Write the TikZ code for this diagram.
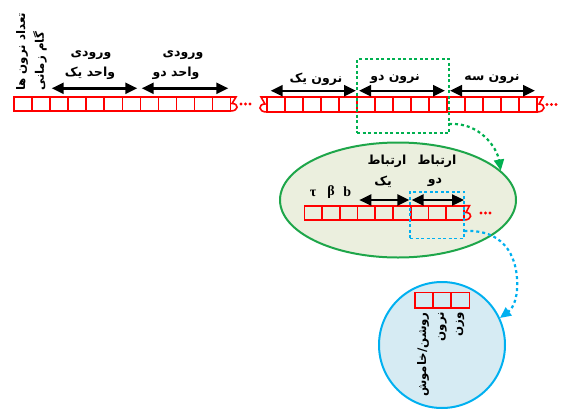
\documentclass[tikz,border=0pt]{standalone}
\usepackage{fontspec}
\usetikzlibrary{arrows.meta,shapes.geometric}
\TeXXeTstate=1
\newfontfamily\fa[Script=Arabic]{DejaVu Sans}
\newfontfamily\grk{Liberation Serif}
\definecolor{tred}{RGB}{255,0,0}
\definecolor{tgreen}{RGB}{0,176,80}
\definecolor{egreen}{RGB}{30,166,74}
\definecolor{efill}{RGB}{235,239,222}
\definecolor{tblue}{RGB}{0,176,240}
\definecolor{cfill}{RGB}{214,235,243}
\newcommand{\fat}[1]{{\fa\bfseries\beginR #1\endR}}
\tikzset{
  tape/.style={draw=tred, line width=1.6pt},
  tapedot/.style={fill=tred, draw=none},
  darr/.style={line width=2.4pt, {Triangle[length=12pt,width=11pt]}-{Triangle[length=12pt,width=11pt]}},
  lbl/.style={inner sep=0pt, font=\fontsize{12.5}{14}\selectfont},
  vlbl/.style={inner sep=0pt, font=\fontsize{11.8}{14}\selectfont},
  gkl/.style={inner sep=0pt, font=\fontsize{14}{16}\selectfont\grk\bfseries},
  gdash/.style={draw=tgreen, line width=1.6pt, dash pattern=on 3pt off 2.5pt},
  bdash/.style={draw=tblue, line width=1.6pt, dash pattern=on 3pt off 2.5pt},
  gcurve/.style={draw=tgreen, line width=2.2pt, dash pattern=on 3pt off 3pt, -{Triangle[length=11pt,width=10pt]}},
  bcurve/.style={draw=tblue, line width=2.2pt, dash pattern=on 3pt off 3pt, -{Triangle[length=11pt,width=10pt]}},
}
\begin{document}
\begin{tikzpicture}[x=1pt,y=-1pt]
\useasboundingbox (0,0) rectangle (563,410);

% ---------- tape 1 ----------
\foreach \i in {0,...,11} \draw[tape] ({14+\i*18.05},97) rectangle ++(18.05,14);
\draw[tape] (230.6,97) -- (236,97) -- (232,103.5) .. controls (239,103.5) and (239,111) .. (230.6,111);
\foreach \x in {241,245.5,250} \fill[tapedot] (\x,104) circle (1.6);

\node[vlbl, rotate=90, anchor=west] (nn) at (22,91) {\fat{تعداد نرون ها}};
\node[vlbl, rotate=90, anchor=west] (gz) at (40,91) {\fat{گام زمانی}};

\coordinate (a1s) at (51.7,88.3); \coordinate (a1e) at (137.3,88.3);
\coordinate (a2s) at (141.7,88.3); \coordinate (a2e) at (228.3,88.3);
\draw[darr] (a1s) -- (a1e);
\draw[darr] (a2s) -- (a2e);
\node[lbl] (v1a) at (91,55) {\fat{ورودی}};
\node[lbl] (v1b) at (90,73) {\fat{واحد یک}};
\node[lbl] (v2a) at (183,55) {\fat{ورودی}};
\node[lbl] (v2b) at (176,73) {\fat{واحد دو}};

% ---------- tape 2 ----------
\foreach \i in {0,...,14} \draw[tape] ({266.7+\i*18},97) rectangle ++(18,15);
\draw[tape] (266.7,97) -- (261,97) -- (265,104) .. controls (258,104) and (258,112) .. (266.7,112);
\draw[tape] (536.7,97) -- (543,97) -- (539,104) .. controls (546,104) and (546,112) .. (536.7,112);
\foreach \x in {547,551.5,556} \fill[tapedot] (\x,104.5) circle (1.6);

\coordinate (n1s) at (270.7,90.7); \coordinate (n1e) at (356,90.7);
\coordinate (n2s) at (359,90.7); \coordinate (n2e) at (445,90.7);
\coordinate (n3s) at (450,90.7); \coordinate (n3e) at (535,90.7);
\draw[darr] (n1s) -- (n1e);
\draw[darr] (n2s) -- (n2e);
\draw[darr] (n3s) -- (n3e);
\node[lbl] (t1) at (316,79) {\fat{نرون یک}};
\node[lbl] (t2) at (395,79) {\fat{نرون دو}};
\node[lbl] (t3) at (492,79) {\fat{نرون سه}};

\node[gdash, minimum width=92pt, minimum height=74pt, inner sep=0pt] (gbox) at (403,96) {};

% ---------- ellipse ----------
\node[ellipse, draw=egreen, fill=efill, line width=2pt, minimum width=236pt, minimum height=115pt, inner sep=0pt] (ell) at (398,200) {};
\foreach \i in {0,...,8} \draw[tape] ({304.3+\i*17.74},205.7) rectangle ++(17.74,14.3);
\draw[tape] (464,205.7) -- (469.5,205.7) -- (466,212.5) .. controls (472.5,212.5) and (472.5,220) .. (464,220);
\foreach \x in {481,485.5,490} \fill[tapedot] (\x,213) circle (1.6);

\node[gkl] (tau) at (313,193) {τ};
\node[gkl] (bet) at (331,192) {β};
\node[gkl] (bb) at (347.3,192) {b};

\coordinate (r1s) at (359.3,200); \coordinate (r1e) at (409.3,200);
\coordinate (r2s) at (411.7,200); \coordinate (r2e) at (464,200);
\draw[darr] (r1s) -- (r1e);
\draw[darr] (r2s) -- (r2e);
\node[lbl] (e1a) at (387,161) {\fat{ارتباط}};
\node[lbl] (e1b) at (383,182) {\fat{یک}};
\node[lbl] (e2a) at (437,161) {\fat{ارتباط}};
\node[lbl] (e2b) at (435,182) {\fat{دو}};

\node[bdash, minimum width=54pt, minimum height=46.6pt, inner sep=0pt] (bbox) at (437,215) {};

% ---------- circle ----------
\node[circle, draw=tblue, fill=cfill, line width=2pt, minimum size=126pt, inner sep=0pt] (circ) at (442,345) {};
\foreach \i in {0,...,2} \draw[tape] ({415+\i*18.1},292.3) rectangle ++(18.1,15.4);
\node[vlbl, rotate=90, anchor=east] (c1) at (423,312) {\fat{روشن/خاموش}};
\node[vlbl, rotate=90, anchor=east] (c2) at (442.5,312) {\fat{نرون}};
\node[vlbl, rotate=90, anchor=east] (c3) at (460,312) {\fat{وزن}};

% ---------- curved connectors ----------
\coordinate (gs) at (449,124);
\draw[gcurve] (gs) .. controls (480,122) and (497,148) .. (ell.16);
\coordinate (bs) at (464.3,231);
\draw[bcurve] (bs) .. controls (508,229) and (519,262) .. (517,290) .. controls (516,302) and (512,309) .. (circ.25);
\end{tikzpicture}
\end{document}
